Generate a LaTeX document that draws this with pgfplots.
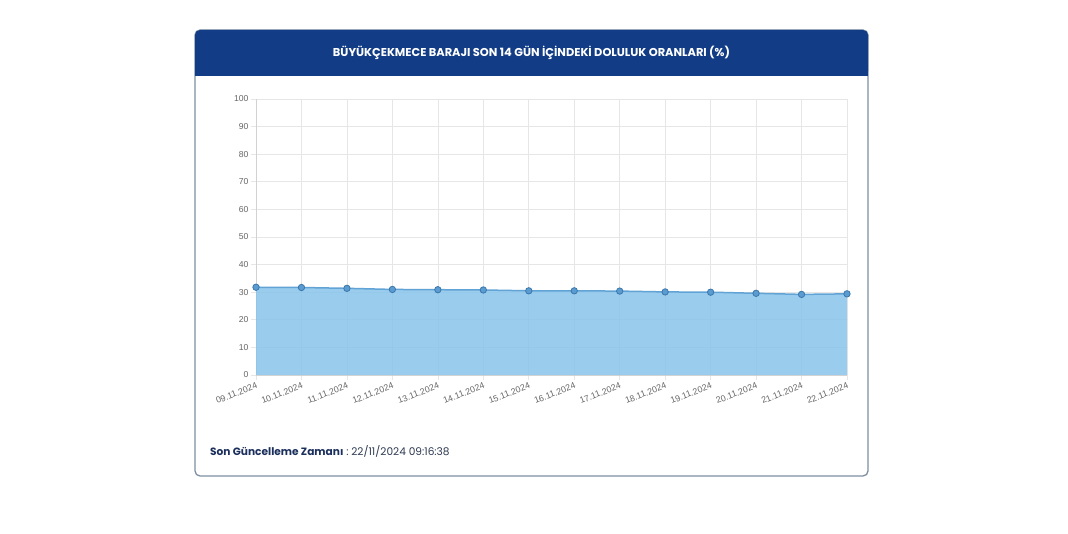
\documentclass[border=0pt]{standalone}
\usepackage{pgfplots}
\pgfplotsset{compat=1.18}
\usepackage{fontspec}
\setmainfont{Liberation Sans}
\newfontfamily\pop{Poppins}
\definecolor{hdr}{HTML}{123C86}
\definecolor{cardborder}{HTML}{7F8FA3}
\definecolor{gridgray}{HTML}{E6E6E6}
\definecolor{axgray}{HTML}{D2D2D2}
\definecolor{tickgray}{HTML}{666666}
\definecolor{fillc}{HTML}{88C4EA}
\definecolor{linec}{HTML}{62A3D6}
\definecolor{markfill}{HTML}{5A9BD0}
\definecolor{markdraw}{HTML}{3B77AD}
\definecolor{navy}{HTML}{1B2F5C}
\definecolor{foot}{HTML}{2E3A52}
\pgfplotstableread{
x y
0 31.8
1 31.7
2 31.4
3 31.0
4 30.9
5 30.8
6 30.5
7 30.5
8 30.4
9 30.1
10 30.0
11 29.6
12 29.2
13 29.4
}\dam
\begin{document}
\begin{tikzpicture}
\fill[white] (0pt,0pt) rectangle (1068pt,534pt);
\draw[rounded corners=5pt, line width=1.3pt, draw=cardborder, fill=white] (195pt,58pt) rectangle (868pt,504pt);
\fill[hdr, rounded corners=5pt] (195pt,458pt) rectangle (868pt,504pt);
\fill[hdr] (195pt,458pt) rectangle (868pt,470pt);
\node[text=white, font=\pop\bfseries\fontsize{11.4}{13}\selectfont] at (531.5pt,481pt) {BÜYÜKÇEKMECE BARAJI SON 14 GÜN İÇİNDEKİ DOLULUK ORANLARI (\%)};
\begin{axis}[
  at={(256pt,159pt)}, anchor=south west,
  width=591pt, height=276pt, scale only axis,
  xmin=0, xmax=13, ymin=0, ymax=100,
  xtick={0,...,13},
  xticklabels={09.11.2024,10.11.2024,11.11.2024,12.11.2024,13.11.2024,14.11.2024,15.11.2024,16.11.2024,17.11.2024,18.11.2024,19.11.2024,20.11.2024,21.11.2024,22.11.2024},
  ytick={0,10,...,100},
  grid=major,
  grid style={gridgray, line width=0.7pt},
  axis line style={axgray, line width=0.8pt},
  axis x line*=bottom, axis y line*=left,
  tick align=outside, major tick length=5pt,
  tick style={gridgray, line width=0.7pt},
  /pgf/number format/assume math mode=true,
  yticklabel style={font=\fontsize{8.6}{10}\selectfont, text=tickgray, xshift=1pt},
  xticklabel style={font=\fontsize{8.8}{10}\selectfont, text=tickgray, rotate=21, anchor=north east, inner sep=1pt, yshift=-1pt},
  clip=false,
]
\addplot[draw=none, fill=fillc, fill opacity=0.85, no markers] table[x=x,y=y] {\dam} \closedcycle;
\addplot[draw=linec, line width=1.5pt, mark=*, mark size=3.2pt,
  mark options={fill=markfill, draw=markdraw, line width=0.8pt}] table[x=x,y=y] {\dam};
\end{axis}
\node[anchor=west, inner sep=0pt, font=\pop\fontsize{10.6}{12}\selectfont] at (210pt,83pt) {\textcolor{navy}{\bfseries Son Güncelleme Zamanı}\textcolor{foot}{~:~22/11/2024 09:16:38}};
\end{tikzpicture}
\end{document}
